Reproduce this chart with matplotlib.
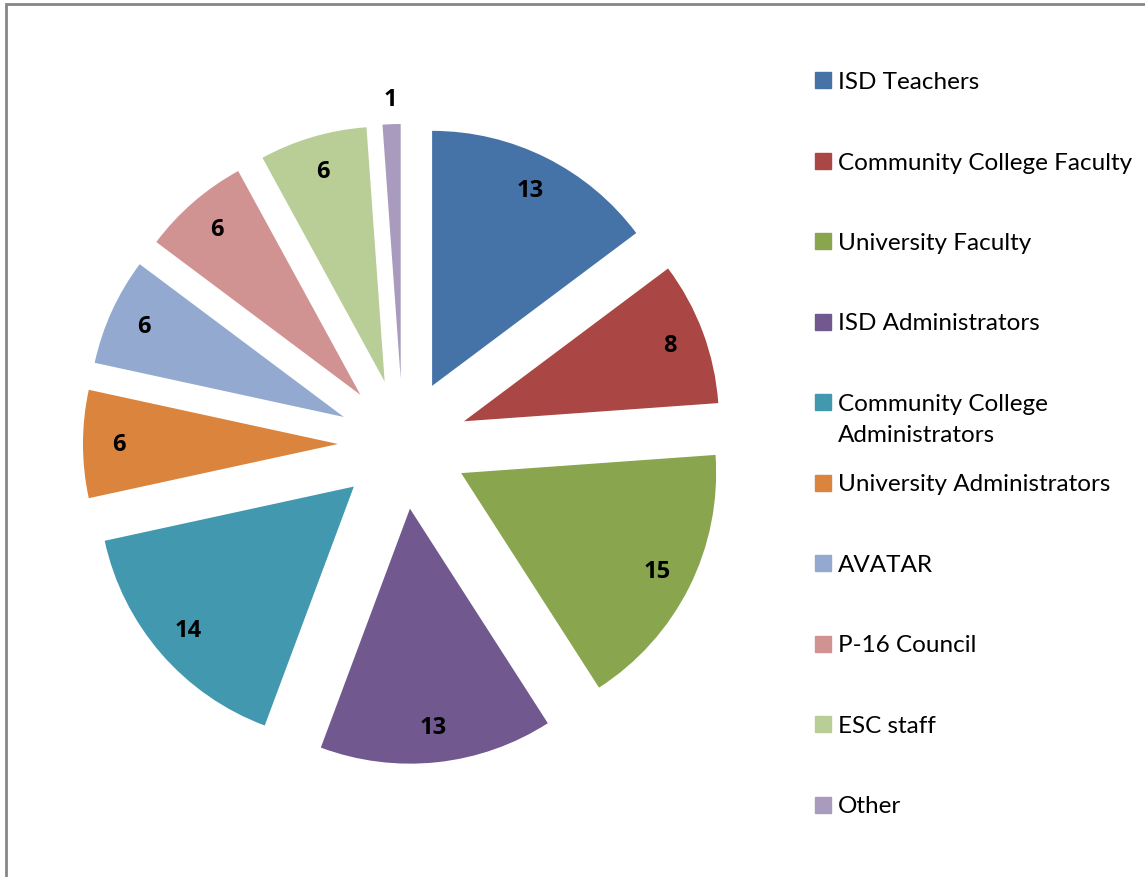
import numpy as np
import matplotlib.pyplot as plt
from matplotlib.patches import Rectangle

categories = ['ISD Teachers', 'Community College Faculty', 'University Faculty',
              'ISD Administrators', 'Community College\nAdministrators',
              'University Administrators', 'AVATAR', 'P-16 Council', 'ESC staff', 'Other']
values = [13, 8, 15, 13, 14, 6, 6, 6, 6, 1]
colors = ['#4572A7', '#AA4643', '#89A54E', '#71588F', '#4198AF',
          '#DB843D', '#93A9CF', '#D19392', '#B9CD96', '#A99BBD']

W, H = 1145, 878
fig = plt.figure(figsize=(W / 100, H / 100), dpi=100)

# pie centre ~ (403, 445) px, radius ~255 px
cx, cy, rpx = 403, 445, 255
lim = 1.5
ax = fig.add_axes([(cx - lim * rpx) / W, (H - cy - lim * rpx) / H,
                   2 * lim * rpx / W, 2 * lim * rpx / H])
wedges, texts, autotexts = ax.pie(values, colors=colors, startangle=90, counterclock=False,
                                  explode=[0.255] * len(values),
                                  autopct=lambda p: '%d' % round(p * sum(values) / 100),
                                  pctdistance=0.86,
                                  textprops=dict(fontsize=17, fontweight='bold',
                                                 family=['Open Sans', 'DejaVu Sans']),
                                  wedgeprops=dict(linewidth=0))
ax.set_xlim(-lim, lim)
ax.set_ylim(-lim, lim)
ax.set_aspect('equal')
ax.axis('off')

# small slices get their label outside the wedge
for w, t, v in zip(wedges, autotexts, values):
    if v / sum(values) < 0.03:
        ang = np.deg2rad((w.theta1 + w.theta2) / 2)
        t.set_position((w.center[0] + 1.1 * w.r * np.cos(ang),
                        w.center[1] + 1.1 * w.r * np.sin(ang)))

# legend, Excel-style
y0, step = 81, 80.5
for i, (lab, col) in enumerate(zip(categories, colors)):
    y = y0 + i * step
    fig.patches.append(Rectangle((815 / W, 1 - (y + 8) / H), 16 / W, 16 / H,
                                 transform=fig.transFigure, color=col, figure=fig))
    fig.text(838 / W, 1 - (y - 9) / H, lab, fontsize=17.5, va='top', ha='left',
             linespacing=1.6, family=['Lato', 'DejaVu Sans'])

# chart border
fig.patches.append(Rectangle((6 / W, -0.05), 1.2, 1 - 5 / H + 0.05, transform=fig.transFigure,
                             fill=False, edgecolor='#868686', linewidth=2, figure=fig))

fig.savefig('out.png', dpi=100)
